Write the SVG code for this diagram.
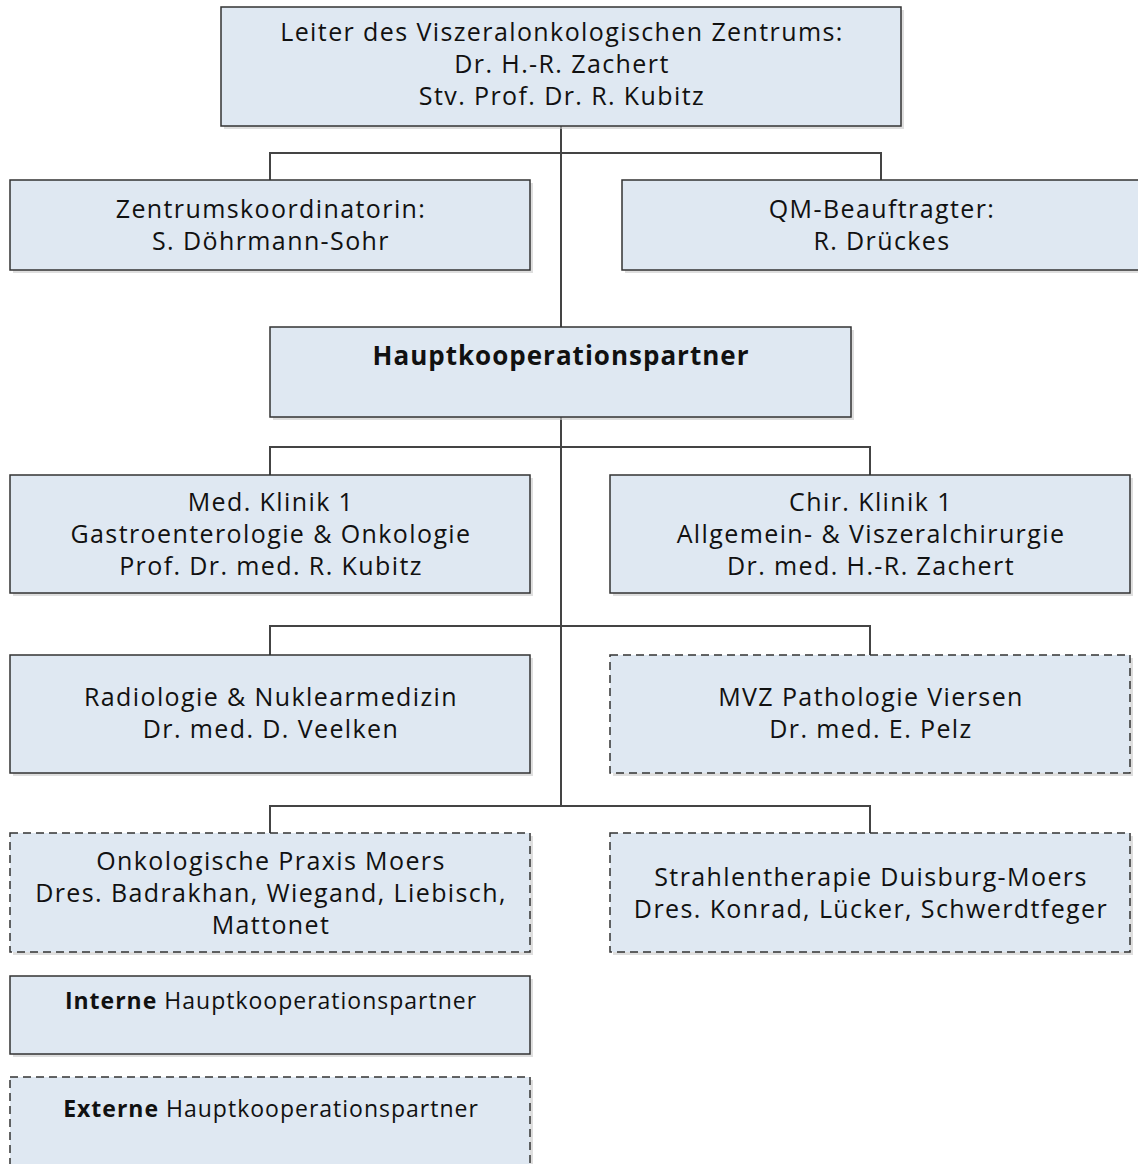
<svg xmlns="http://www.w3.org/2000/svg" width="1138" height="1164" viewBox="0 0 1138 1164">
<style>
.box{fill:#dfe8f2;stroke:#333;stroke-width:1.5}
.dash{stroke-dasharray:8 5}
.sh{fill:#c8c8c8;opacity:0.6}
.t{font-family:"Open Sans","Noto Sans",sans-serif;font-size:25px;letter-spacing:1.4px;fill:#111;text-anchor:middle}
.b{font-weight:bold}
.h{font-size:26px;letter-spacing:1px}
.s{font-size:23px;letter-spacing:1px}
.c{fill:none;stroke:#444;stroke-width:2}
</style>
<rect width="1138" height="1164" fill="#fff"/>
<g id="connectors">
<path class="c" d="M561 126V806"/>
<path class="c" d="M270 180V153H881V180"/>
<path class="c" d="M270 475V447H870V475"/>
<path class="c" d="M270 655V626H870V655"/>
<path class="c" d="M270 833V806H870V833"/>
</g>
<g id="leiter">
<rect class="sh" x="224" y="10" width="680" height="119"/>
<rect class="box" x="221" y="7" width="680" height="119"/>
<text class="t" x="562" y="41">Leiter des Viszeralonkologischen Zentrums:</text>
<text class="t" x="562" y="73">Dr. H.-R. Zachert</text>
<text class="t" x="562" y="105">Stv. Prof. Dr. R. Kubitz</text>
</g>
<g id="koordinatorin">
<rect class="sh" x="13" y="183" width="520" height="90"/>
<rect class="box" x="10" y="180" width="520" height="90"/>
<text class="t" x="271" y="218">Zentrumskoordinatorin:</text>
<text class="t" x="271" y="250">S. Döhrmann-Sohr</text>
</g>
<g id="qm">
<rect class="sh" x="625" y="183" width="520" height="90"/>
<rect class="box" x="622" y="180" width="520" height="90"/>
<text class="t" x="882" y="218">QM-Beauftragter:</text>
<text class="t" x="882" y="250">R. Drückes</text>
</g>
<g id="haupt">
<rect class="sh" x="273" y="330" width="581" height="90"/>
<rect class="box" x="270" y="327" width="581" height="90"/>
<text class="t b h" x="561" y="365">Hauptkooperationspartner</text>
</g>
<g id="medklinik">
<rect class="sh" x="13" y="478" width="520" height="118"/>
<rect class="box" x="10" y="475" width="520" height="118"/>
<text class="t" x="271" y="511">Med. Klinik 1</text>
<text class="t" x="271" y="543">Gastroenterologie &amp; Onkologie</text>
<text class="t" x="271" y="575">Prof. Dr. med. R. Kubitz</text>
</g>
<g id="chirklinik">
<rect class="sh" x="613" y="478" width="520" height="118"/>
<rect class="box" x="610" y="475" width="520" height="118"/>
<text class="t" x="871" y="511">Chir. Klinik 1</text>
<text class="t" x="871" y="543">Allgemein- &amp; Viszeralchirurgie</text>
<text class="t" x="871" y="575">Dr. med. H.-R. Zachert</text>
</g>
<g id="radiologie">
<rect class="sh" x="13" y="658" width="520" height="118"/>
<rect class="box" x="10" y="655" width="520" height="118"/>
<text class="t" x="271" y="706">Radiologie &amp; Nuklearmedizin</text>
<text class="t" x="271" y="738">Dr. med. D. Veelken</text>
</g>
<g id="pathologie">
<rect class="sh" x="613" y="658" width="520" height="118"/>
<rect class="box dash" x="610" y="655" width="520" height="118"/>
<text class="t" x="871" y="706">MVZ Pathologie Viersen</text>
<text class="t" x="871" y="738">Dr. med. E. Pelz</text>
</g>
<g id="onkologie">
<rect class="sh" x="13" y="836" width="520" height="119"/>
<rect class="box dash" x="10" y="833" width="520" height="119"/>
<text class="t" x="271" y="870">Onkologische Praxis Moers</text>
<text class="t" x="271" y="902">Dres. Badrakhan, Wiegand, Liebisch,</text>
<text class="t" x="271" y="934">Mattonet</text>
</g>
<g id="strahlentherapie">
<rect class="sh" x="613" y="836" width="520" height="119"/>
<rect class="box dash" x="610" y="833" width="520" height="119"/>
<text class="t" x="871" y="886">Strahlentherapie Duisburg-Moers</text>
<text class="t" x="871" y="918">Dres. Konrad, Lücker, Schwerdtfeger</text>
</g>
<g id="legend-intern">
<rect class="sh" x="13" y="979" width="520" height="78"/>
<rect class="box" x="10" y="976" width="520" height="78"/>
<text class="t s" x="271" y="1009"><tspan class="b">Interne</tspan> Hauptkooperationspartner</text>
</g>
<g id="legend-extern">
<rect class="sh" x="13" y="1080" width="520" height="90"/>
<rect class="box dash" x="10" y="1077" width="520" height="90"/>
<text class="t s" x="271" y="1117"><tspan class="b">Externe</tspan> Hauptkooperationspartner</text>
</g>
</svg>
